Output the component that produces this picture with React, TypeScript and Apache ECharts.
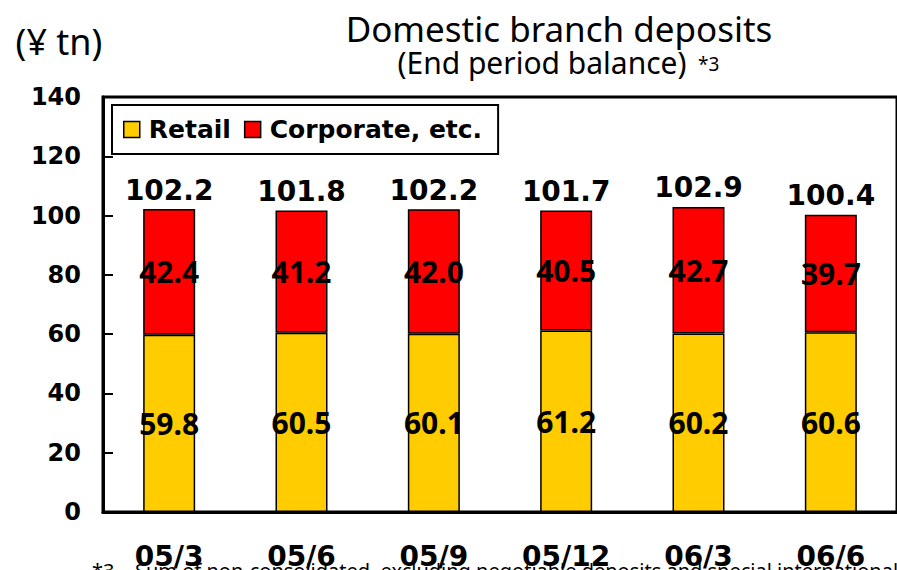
import React, { useEffect, useRef } from "react";
import * as echarts from "echarts";

const categories = ["05/3", "05/6", "05/9", "05/12", "06/3", "06/6"];
const retail = [59.8, 60.5, 60.1, 61.2, 60.2, 60.6];
const corporate = [42.4, 41.2, 42.0, 40.5, 42.7, 39.7];
const totals = [102.2, 101.8, 102.2, 101.7, 102.9, 100.4];
const seriesNames = ["Retail", "Corporate, etc."];
const yMin = 0;
const yMax = 140;
const yStep = 20;

const titleText = "Domestic branch deposits";
const subtitleText = "(End period balance)";
const noteMark = "*3";
const unitText = "(¥ tn)";
const footnoteText =
  "Sum of non-consolidated, excluding negotiable deposits and special international";

export default function App() {
  const ref = useRef<HTMLDivElement>(null);
  useEffect(() => {
    const chart = echarts.init(ref.current!, null, { renderer: "svg" });
    const bold = { fontFamily: "DejaVu Sans", fontWeight: "bold" as const, color: "#000" };
    chart.setOption({
      animation: false,
      backgroundColor: "#fff",
      grid: {
        left: 103,
        top: 97,
        width: 815,
        height: 417,
        show: true,
        borderColor: "#000",
        borderWidth: 3,
        backgroundColor: "transparent",
      },
      legend: {
        data: seriesNames,
        left: 112,
        top: 105,
        orient: "horizontal",
        icon: "rect",
        itemWidth: 16,
        itemHeight: 16,
        itemGap: 13,
        padding: [12, 16, 12, 11],
        borderColor: "#000",
        borderWidth: 2,
        backgroundColor: "#fff",
        itemStyle: { borderColor: "#000", borderWidth: 1.5 },
        textStyle: { ...bold, fontSize: 25, padding: [0, 0, 0, 4] },
      },
      xAxis: {
        type: "category",
        data: categories,
        axisLine: { lineStyle: { color: "#000", width: 3 } },
        axisTick: { inside: true, length: 9, interval: 0, lineStyle: { color: "#000", width: 2 } },
        axisLabel: { ...bold, fontSize: 28, margin: 30, interval: 0 },
        splitLine: { show: false },
      },
      yAxis: {
        type: "value",
        min: yMin,
        max: yMax,
        interval: yStep,
        axisLine: { show: true, lineStyle: { color: "#000", width: 3 } },
        axisTick: { show: true, inside: true, length: 10, lineStyle: { color: "#000", width: 2 } },
        axisLabel: { ...bold, fontSize: 24, margin: 22 },
        splitLine: { show: false },
      },
      series: [
        {
          name: seriesNames[0],
          type: "bar",
          stack: "total",
          barWidth: 52,
          data: retail,
          itemStyle: { color: "#FFCC00", borderColor: "#000", borderWidth: 1.5 },
          label: {
            show: true,
            position: "inside",
            fontFamily: "Noto Sans",
            fontWeight: "bold",
            fontSize: 30,
            color: "#000",
            formatter: (p: any) => Number(p.value).toFixed(1),
          },
        },
        {
          name: seriesNames[1],
          type: "bar",
          stack: "total",
          barWidth: 52,
          data: corporate,
          itemStyle: { color: "#FF0000", borderColor: "#000", borderWidth: 1.5 },
          label: {
            show: true,
            position: "inside",
            fontFamily: "Noto Sans",
            fontWeight: "bold",
            fontSize: 30,
            color: "#000",
            formatter: (p: any) => Number(p.value).toFixed(1),
          },
        },
        {
          name: "Total",
          type: "scatter",
          data: totals,
          symbol: "circle",
          symbolSize: 0,
          itemStyle: { color: "#000", opacity: 1 },
          silent: true,
          z: 10,
          label: {
            show: true,
            position: "top",
            distance: 5,
            fontFamily: "DejaVu Sans",
            fontWeight: "bold",
            fontSize: 28,
            color: "#000",
            opacity: 1,
            textBorderWidth: 0,
            formatter: (p: any) => Number(p.value).toFixed(1),
          },
          emphasis: { disabled: true },
        },
      ],
      graphic: [
        {
          type: "text",
          x: 59,
          y: 41,
          style: { text: unitText, fontFamily: "Noto Sans", fontSize: 36, fill: "#000", align: "center", verticalAlign: "middle" },
        },
        {
          type: "text",
          x: 559,
          y: 28,
          style: { text: titleText, fontFamily: "Noto Sans", fontSize: 35, fill: "#000", align: "center", verticalAlign: "middle" },
        },
        {
          type: "text",
          x: 542,
          y: 62,
          style: { text: subtitleText, fontFamily: "Noto Sans", fontSize: 30, fill: "#000", align: "center", verticalAlign: "middle" },
        },
        {
          type: "text",
          x: 698,
          y: 64,
          style: { text: noteMark, fontFamily: "Noto Sans", fontSize: 19, fill: "#000", align: "left", verticalAlign: "middle" },
        },
        {
          type: "text",
          x: 92,
          y: 570,
          style: { text: noteMark, fontFamily: "Noto Sans", fontSize: 20, fill: "#000", align: "left", verticalAlign: "middle" },
        },
        {
          type: "text",
          x: 135,
          y: 570,
          style: { text: footnoteText, fontFamily: "Noto Sans", fontSize: 20, fill: "#000", align: "left", verticalAlign: "middle" },
        },
      ],
    });
    return () => chart.dispose();
  }, []);
  return (
    <div
      ref={ref}
      style={{ position: "fixed", left: 0, top: 0, width: 897, height: 570 }}
    />
  );
}
